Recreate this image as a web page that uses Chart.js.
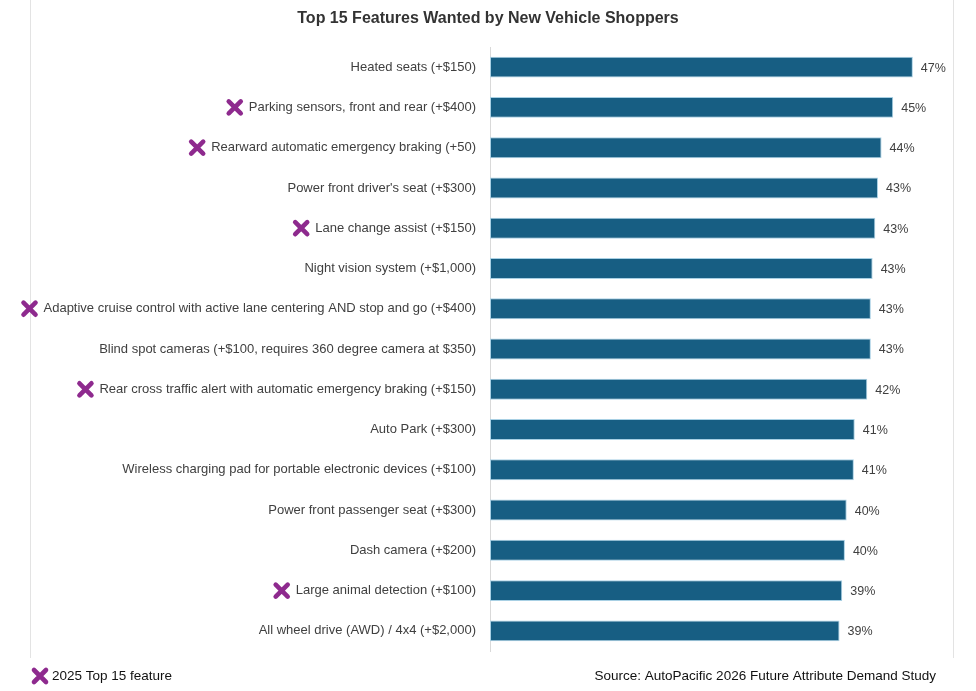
<!DOCTYPE html>
<html>
<head>
<meta charset="utf-8">
<script src="https://cdn.jsdelivr.net/npm/chart.js@4"></script>
<style>
  html, body { margin: 0; padding: 0; background: #fff; }
  #wrap { width: 976px; height: 691px; position: relative; }
</style>
</head>
<body>
<div id="wrap"><canvas id="chart"></canvas></div>
<script>
// feature labels, top to bottom
const features = [
  'Heated seats (+$150)',
  'Parking sensors, front and rear (+$400)',
  'Rearward automatic emergency braking (+50)',
  "Power front driver's seat (+$300)",
  'Lane change assist (+$150)',
  'Night vision system (+$1,000)',
  'Adaptive cruise control with active lane centering AND stop and go (+$400)',
  'Blind spot cameras (+$100, requires 360 degree camera at $350)',
  'Rear cross traffic alert with automatic emergency braking (+$150)',
  'Auto Park (+$300)',
  'Wireless charging pad for portable electronic devices (+$100)',
  'Power front passenger seat (+$300)',
  'Dash camera (+$200)',
  'Large animal detection (+$100)',
  'All wheel drive (AWD) / 4x4 (+$2,000)'
];

// share of shoppers wanting it (%)
const shares = [47.3, 45.1, 43.8, 43.4, 43.1, 42.8, 42.6, 42.6, 42.2, 40.8, 40.7, 39.9, 39.7, 39.4, 39.1];

// was it also in the 2025 top 15?
const top2025 = [false, true, true, false, true, false, true, false, true, false, false, false, false, true, false];

const labelFont = '13px "Liberation Sans", Arial, sans-serif';
const purple = '#8e2a8e';
const labelRight = 476;

function drawCross(ctx, cx, cy) {
  ctx.save();
  ctx.strokeStyle = purple;
  ctx.lineWidth = 4.6;
  ctx.lineCap = 'round';
  const r = 6;
  ctx.beginPath();
  ctx.moveTo(cx - r, cy - r); ctx.lineTo(cx + r, cy + r);
  ctx.moveTo(cx + r, cy - r); ctx.lineTo(cx - r, cy + r);
  ctx.stroke();
  ctx.restore();
}

const decor = {
  id: 'decor',
  beforeDraw(chart) {
    const ctx = chart.ctx;
    ctx.save();
    ctx.strokeStyle = '#e3e3e3';
    ctx.lineWidth = 1;
    ctx.beginPath();
    ctx.moveTo(30.5, 0); ctx.lineTo(30.5, 658);
    ctx.moveTo(953.5, 0); ctx.lineTo(953.5, 658);
    ctx.stroke();
    ctx.restore();
  },
  afterDraw(chart) {
    const { ctx } = chart;
    const y = chart.scales.y;
    ctx.save();

    // title
    ctx.fillStyle = '#333';
    ctx.font = 'bold 16px "Liberation Sans Narrow", "Liberation Sans", Arial, sans-serif';
    ctx.textAlign = 'center';
    ctx.textBaseline = 'middle';
    ctx.fillText('Top 15 Features Wanted by New Vehicle Shoppers', 488, 19);

    // labels drawn here so the 2025 marks sit right in front of them
    ctx.font = labelFont;
    ctx.fillStyle = '#404040';
    ctx.textAlign = 'right';
    features.forEach((f, i) => {
      const cy = y.getPixelForValue(i);
      ctx.fillText(f, labelRight, cy);
      if (top2025[i]) {
        const w = ctx.measureText(f).width;
        drawCross(ctx, labelRight - w - 14, cy);
      }
    });

    // value labels
    ctx.font = '12.5px "Liberation Sans", Arial, sans-serif';
    ctx.fillStyle = '#404040';
    ctx.textAlign = 'left';
    const meta = chart.getDatasetMeta(0);
    meta.data.forEach((bar, i) => {
      ctx.fillText(Math.round(shares[i]) + '%', bar.x + 8, bar.y + 1);
    });

    // footer
    drawCross(ctx, 40, 676);
    ctx.fillStyle = '#111';
    ctx.font = '13.5px "Liberation Sans", Arial, sans-serif';
    ctx.fillText('2025 Top 15 feature', 52, 676);
    ctx.textAlign = 'right';
    ctx.fillText('Source: AutoPacific 2026 Future Attribute Demand Study', 936, 676);

    ctx.restore();
  }
};

new Chart(document.getElementById('chart'), {
  type: 'bar',
  data: {
    labels: features,
    datasets: [{
      data: shares,
      backgroundColor: '#175e83',
      borderColor: '#a8d0e4',
      borderWidth: 1,
      borderSkipped: false,
      barPercentage: 0.52,
      categoryPercentage: 1
    }]
  },
  options: {
    indexAxis: 'y',
    responsive: true,
    maintainAspectRatio: false,
    animation: false,
    layout: { padding: { left: 0, right: 39, top: 47, bottom: 40 } },
    plugins: {
      legend: { display: false },
      tooltip: { enabled: false }
    },
    scales: {
      x: {
        display: false,
        min: 0,
        max: 50
      },
      y: {
        afterFit(scale) { scale.width = 490; },
        grid: { display: false },
        border: { display: true, color: '#d9d9d9', width: 1 },
        ticks: { display: false }
      }
    }
  },
  plugins: [decor]
});
</script>
</body>
</html>
